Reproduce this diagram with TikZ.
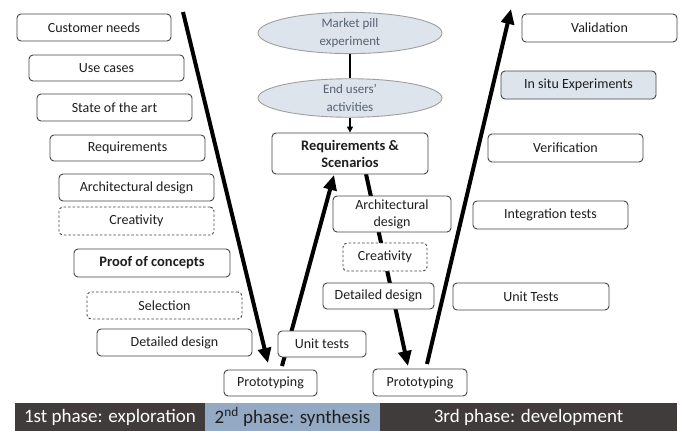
\documentclass[tikz,border=0pt]{standalone}
\usepackage{fontspec}
\setmainfont{Carlito}
\usetikzlibrary{arrows.meta,shapes.geometric}
\definecolor{boxline}{RGB}{70,70,70}
\definecolor{txt}{RGB}{30,30,30}
\definecolor{ellfill}{RGB}{222,228,236}
\definecolor{elltxt}{RGB}{85,98,115}
\definecolor{bardark}{RGB}{64,60,59}
\definecolor{barlight}{RGB}{148,170,196}
\begin{document}
\begin{tikzpicture}[x=1pt,y=-1pt,
  box/.style={draw=boxline, rounded corners=4pt, line width=0.9pt, fill=white, inner sep=0pt,
    font=\fontsize{14}{17}\selectfont, text=txt, align=center},
  dbox/.style={box, dashed, dash pattern=on 2.5pt off 2pt},
  boldbox/.style={box, font=\fontsize{14.5}{17}\selectfont\bfseries},
  ell/.style={ellipse, draw=gray!75, line width=0.9pt, fill=ellfill, inner sep=0pt,
    font=\fontsize{13}{18}\selectfont, text=elltxt, align=center},
  bigarrow/.style={line width=4pt, -{Triangle[length=15pt,width=13pt]}},
  smallarrow/.style={line width=1.6pt, -{Triangle[length=6pt,width=6pt]}},
  bartxt/.style={font=\fontsize{19}{21}\selectfont}
]
\useasboundingbox (0,0) rectangle (681,431);
\fill[white] (0,0) rectangle (681,431);
% big arrows (behind the boxes)
\coordinate (a1s) at (183,12);
\coordinate (a1e) at (268,363);
\coordinate (a2s) at (282,366);
\coordinate (a2e) at (334,175);
\coordinate (a3s) at (366,174);
\coordinate (a3e) at (408,366);
\coordinate (a4s) at (427,364);
\coordinate (a4e) at (511,9);
\draw[bigarrow] (a1s) -- (a1e);
\draw[bigarrow] (a2s) -- (a2e);
\draw[bigarrow] (a3s) -- (a3e);
\draw[bigarrow] (a4s) -- (a4e);
% left column
\node[box, minimum width=154pt, minimum height=27pt] (cn) at (94,27.5) {Customer needs};
\node[box, minimum width=155pt, minimum height=26pt] (uc) at (106.5,68) {Use cases};
\node[box, minimum width=155pt, minimum height=27pt] (sa) at (114.5,107.5) {State of the art};
\node[box, minimum width=155pt, minimum height=26pt] (rq) at (127.5,148) {Requirements};
\node[box, minimum width=155pt, minimum height=27pt] (ad) at (136.5,187.5) {Architectural design};
\node[dbox, minimum width=155pt, minimum height=28pt] (cr) at (136.5,221) {Creativity};
\node[boldbox, minimum width=156pt, minimum height=28pt] (pc) at (152,263) {Proof of concepts};
\node[dbox, minimum width=155pt, minimum height=27pt] (sel) at (164.5,305.5) {Selection};
\node[box, minimum width=155pt, minimum height=27pt] (dd) at (174.5,342.5) {Detailed design};
\node[box, minimum width=93pt, minimum height=26pt] (pl) at (270.5,383) {Prototyping};
\node[box, minimum width=88pt, minimum height=26pt] (ut) at (322,344) {Unit tests};
% middle
\node[ell, minimum width=184pt, minimum height=40pt] (mp) at (350,33) {Market pill\\experiment};
\node[ell, minimum width=184pt, minimum height=38pt] (eu) at (350,98) {End users’\\activities};
\node[boldbox, minimum width=156pt, minimum height=41pt] (rs) at (350,153.5) {Requirements \&\\Scenarios};
\node[box, minimum width=118pt, minimum height=36pt] (ad2) at (392,214) {Architectural\\design};
\node[dbox, minimum width=84pt, minimum height=28pt] (cr2) at (385,257) {Creativity};
\node[box, minimum width=111pt, minimum height=26pt] (dd2) at (378.5,296) {Detailed design};
\node[box, minimum width=94pt, minimum height=27pt] (pr) at (420,382.5) {Prototyping};
% right column
\node[box, minimum width=155pt, minimum height=28pt] (val) at (599.5,28) {Validation};
\node[box, minimum width=155pt, minimum height=28pt, fill=ellfill] (ise) at (578.5,85) {In situ Experiments};
\node[box, minimum width=155pt, minimum height=28pt] (ver) at (565.5,148) {Verification};
\node[box, minimum width=155pt, minimum height=28pt] (it) at (550.5,215) {Integration tests};
\node[box, minimum width=156pt, minimum height=27pt] (utr) at (531,296.5) {Unit Tests};
% small connectors
\draw[line width=1.6pt] (mp) -- (eu);
\draw[smallarrow] (eu) -- (rs);
% phase bar
\node[fill=bardark, minimum width=190pt, minimum height=28pt, inner sep=0pt, text=white, bartxt] (p1) at (110,417) {1st phase: exploration};
\node[fill=barlight, minimum width=175pt, minimum height=28pt, inner sep=0pt, text=txt, bartxt] (p2) at (292.5,417) {2\textsuperscript{nd} phase: synthesis};
\node[fill=bardark, minimum width=297pt, minimum height=28pt, inner sep=0pt, text=white, bartxt] (p3) at (528.5,417) {3rd phase: development};
\end{tikzpicture}
\end{document}
